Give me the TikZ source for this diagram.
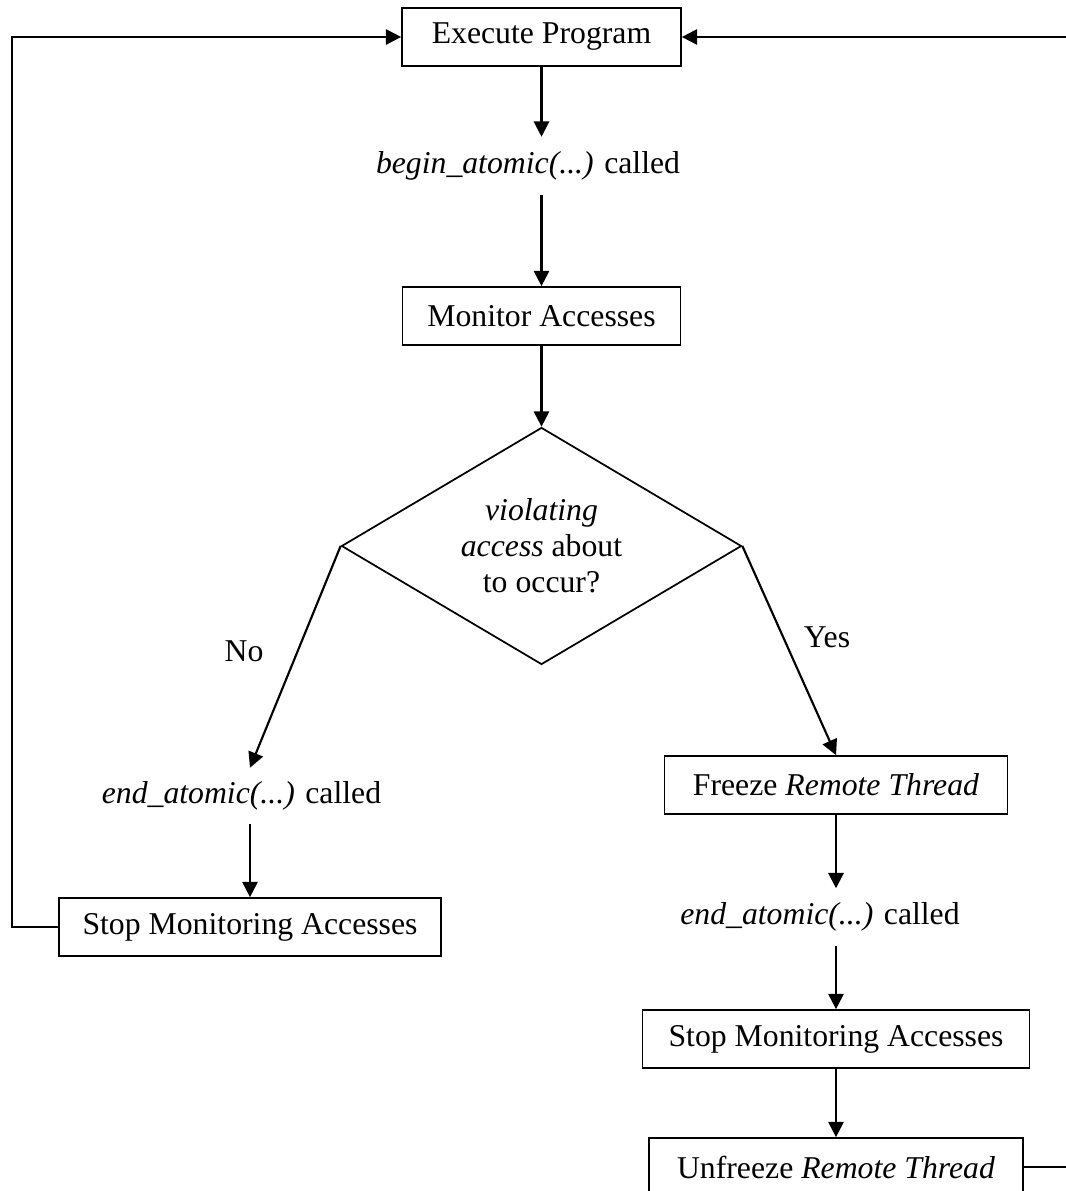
\documentclass[tikz,border=0pt]{standalone}
\usepackage{fontspec}
\setmainfont{Liberation Serif}
\usetikzlibrary{shapes.geometric,arrows.meta}
\begin{document}
\begin{tikzpicture}[x=0.75pt,y=-0.75pt,
  every node/.style={font=\fontsize{23.8}{27}\selectfont, inner sep=0pt},
  box/.style={draw, line width=1.3pt, rectangle, minimum height=43.5pt},
  txt/.style={rectangle, minimum height=43pt},
  conn/.style={line width=1.6pt},
  arr/.style={conn, -{Triangle[length=11.5pt,width=11.5pt]}}]
\useasboundingbox (0,0) rectangle (1066,1191);
% boxes
\node[box, minimum width=209.25pt] (exec) at (541.5,37) {Execute Program};
\node[box, minimum width=208.5pt] (mon) at (541.5,316) {Monitor Accesses};
\node[draw, line width=1.3pt, diamond, aspect=1.69, minimum width=300pt, minimum height=177.75pt, align=center] (dia) at (541.5,546)
  {\textit{violating}\\\textit{access} about\\to occur?};
\node[box, minimum width=286.5pt] (stopL) at (250,927) {Stop Monitoring Accesses};
\node[box, minimum width=257.25pt] (freeze) at (836,785) {Freeze \textit{Remote Thread}};
\node[box, minimum width=290.25pt] (stopR) at (836,1039) {Stop Monitoring Accesses};
\node[box, minimum width=280.5pt] (unf) at (836,1167) {Unfreeze \textit{Remote Thread}};
% texts
\node[txt, minimum height=43.5pt] (begin) at (528,166) {\textit{begin\_atomic(...)} called};
\node[txt, minimum height=42pt] (endL) at (241.5,796) {\textit{end\_atomic(...)} called};
\node[txt, minimum height=42.75pt] (endR) at (820,917) {\textit{end\_atomic(...)} called};
\node (no) at (244,651) {No};
\node (yes) at (827,637) {Yes};
% coordinates
\coordinate (lft) at (12,37);
\coordinate (rgt) at (1069,37);
% connectors
\draw[arr] (exec.south) -- (exec.south |- begin.north);
\draw[arr] (mon.north |- begin.south) -- (mon.north);
\draw[arr] (mon.south) -- (dia.north);
\draw[arr] (dia.west) -- (stopL.north |- endL.north);
\draw[arr] (dia.east) -- (freeze.north);
\draw[arr] (stopL.north |- endL.south) -- (stopL.north);
\draw[arr] (freeze.south) -- (freeze.south |- endR.north);
\draw[arr] (freeze.south |- endR.south) -- (stopR.north);
\draw[arr] (stopR.south) -- (unf.north);
\draw[arr] (stopL.west) -| (lft) -- (exec.west);
\draw[arr] (unf.east) -- (unf.east -| rgt) -- (rgt) -- (exec.east);
\end{tikzpicture}
\end{document}
